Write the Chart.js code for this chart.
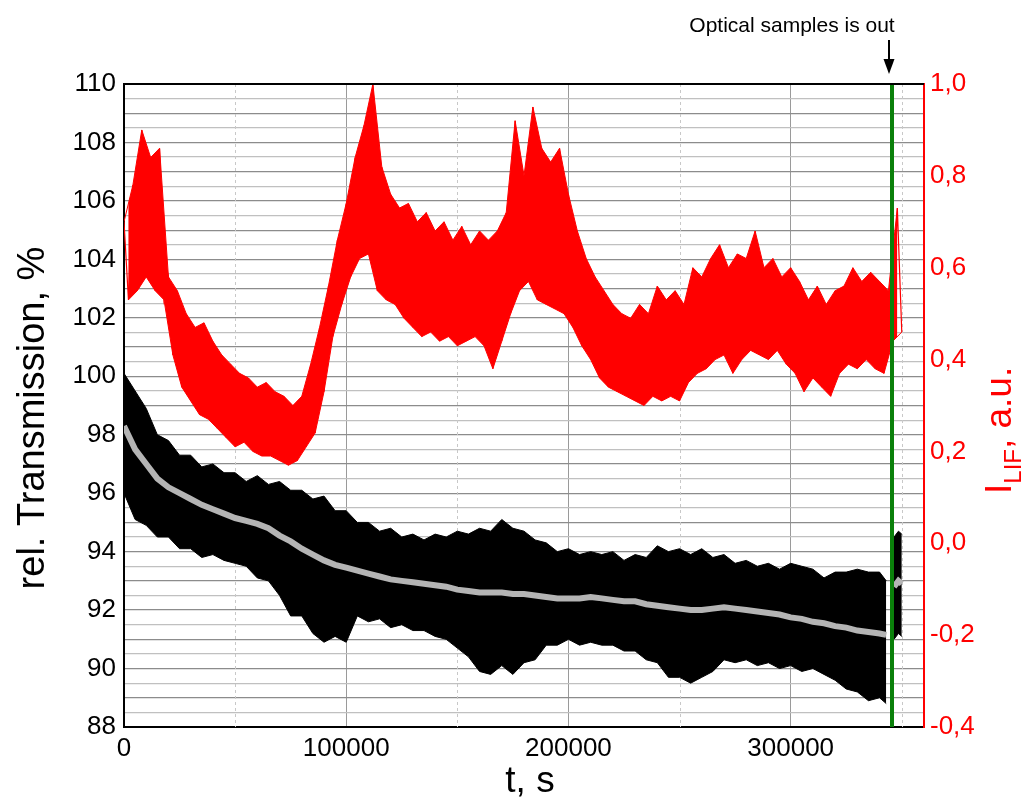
<!DOCTYPE html>
<html>
<head>
<meta charset="utf-8">
<script src="https://cdn.jsdelivr.net/npm/chart.js@4/dist/chart.umd.min.js"></script>
<style>
  html, body { margin: 0; padding: 0; background: #fff; }
  #wrap { width: 1024px; height: 800px; position: relative; }
</style>
</head>
<body>
<div id="wrap"><canvas id="chart"></canvas></div>
<script>
// transmission band (left axis), sampled every 5000 s, last point 343000 s
const transStep = 5000;
const transUpper = [100.1, 99.5, 98.9, 98.0, 97.8, 97.3, 97.3, 96.9, 97.0, 96.7,
    96.7, 96.4, 96.6, 96.3, 96.4, 96.1, 96.1, 95.8, 95.9, 95.4,
    95.4, 95.0, 95.0, 94.7, 94.8, 94.5, 94.6, 94.4, 94.6, 94.5,
    94.7, 94.6, 94.8, 94.7, 95.1, 94.8, 94.7, 94.4, 94.3, 94.0,
    94.1, 93.9, 94.0, 93.9, 94.0, 93.7, 93.9, 93.8, 94.2, 94.0,
    94.1, 93.9, 94.1, 93.8, 93.9, 93.6, 93.7, 93.5, 93.6, 93.4,
    93.6, 93.5, 93.4, 93.1, 93.3, 93.3, 93.4, 93.3, 93.3, 93.0];
const transLower = [96.0, 95.1, 94.9, 94.5, 94.5, 94.1, 94.1, 93.8, 93.9, 93.7,
    93.6, 93.5, 93.1, 93.0, 92.5, 91.8, 91.8, 91.2, 90.9, 91.1,
    90.9, 91.8, 91.6, 91.7, 91.4, 91.5, 91.3, 91.3, 91.1, 91.0,
    90.7, 90.4, 89.9, 89.8, 90.1, 89.8, 90.2, 90.3, 90.8, 90.8,
    91.0, 90.8, 90.9, 90.8, 90.8, 90.6, 90.6, 90.3, 90.2, 89.7,
    89.7, 89.5, 89.7, 89.9, 90.3, 90.2, 90.3, 90.1, 90.2, 90.0,
    90.1, 89.9, 90.0, 89.8, 89.6, 89.3, 89.2, 88.9, 89.0, 88.8];
const transMean = [98.3, 97.5, 97.0, 96.5, 96.2, 96.0, 95.8, 95.6, 95.45, 95.3,
    95.15, 95.05, 94.95, 94.8, 94.55, 94.35, 94.1, 93.9, 93.7, 93.55,
    93.45, 93.35, 93.25, 93.15, 93.05, 93.0, 92.95, 92.9, 92.85, 92.8,
    92.7, 92.65, 92.6, 92.6, 92.6, 92.55, 92.55, 92.5, 92.45, 92.4,
    92.4, 92.4, 92.45, 92.4, 92.35, 92.3, 92.3, 92.2, 92.15, 92.1,
    92.05, 92.0, 92.0, 92.05, 92.1, 92.05, 92.0, 91.95, 91.9, 91.85,
    91.75, 91.7, 91.6, 91.55, 91.45, 91.4, 91.3, 91.25, 91.2, 91.15];
const transLastT = 343000;

// short piece after the samples were taken out
const tailT = [346500, 348500, 350000];
const tailUpper = [94.5, 94.7, 94.6];
const tailLower = [91.0, 91.2, 91.1];
const tailMean = [92.8, 93.0, 92.9];

// LIF signal (right axis): peaks at t = 4000*k, dips at t = 2000 + 4000*k
const lifStep = 4000;
const lifHi = [0.70, 0.78, 0.90, 0.84, 0.86, 0.58, 0.55, 0.50, 0.47, 0.48,
    0.44, 0.41, 0.39, 0.37, 0.36, 0.34, 0.35, 0.33, 0.32, 0.30,
    0.32, 0.39, 0.47, 0.56, 0.66, 0.74, 0.84, 0.91, 1.00, 0.82,
    0.76, 0.73, 0.74, 0.70, 0.72, 0.68, 0.70, 0.66, 0.69, 0.65,
    0.68, 0.66, 0.68, 0.72, 0.92, 0.80, 0.95, 0.86, 0.83, 0.86,
    0.76, 0.68, 0.62, 0.58, 0.55, 0.52, 0.50, 0.49, 0.52, 0.50,
    0.56, 0.53, 0.55, 0.52, 0.60, 0.58, 0.62, 0.65, 0.60, 0.63,
    0.62, 0.68, 0.60, 0.62, 0.58, 0.60, 0.57, 0.53, 0.56, 0.52,
    0.55, 0.56, 0.60, 0.57, 0.59, 0.57, 0.55, 0.73];
const lifLo = [0.53, 0.55, 0.58, 0.55, 0.53, 0.41, 0.34, 0.31, 0.28, 0.27,
    0.25, 0.23, 0.21, 0.22, 0.20, 0.19, 0.19, 0.18, 0.17, 0.18,
    0.21, 0.24, 0.33, 0.45, 0.52, 0.58, 0.62, 0.63, 0.55, 0.53,
    0.52, 0.49, 0.47, 0.45, 0.46, 0.44, 0.45, 0.43, 0.44, 0.45,
    0.43, 0.38, 0.44, 0.50, 0.55, 0.57, 0.53, 0.52, 0.51, 0.50,
    0.47, 0.43, 0.40, 0.36, 0.34, 0.33, 0.32, 0.31, 0.30, 0.32,
    0.31, 0.32, 0.31, 0.35, 0.37, 0.38, 0.40, 0.41, 0.37, 0.40,
    0.42, 0.41, 0.40, 0.42, 0.39, 0.37, 0.33, 0.36, 0.34, 0.32,
    0.37, 0.39, 0.38, 0.40, 0.38, 0.37, 0.44, 0.46];

const samplesOutT = 345600;
const xTickValues = [0, 50000, 100000, 150000, 200000, 250000, 300000, 350000];
const xTickLabels = [0, 100000, 200000, 300000];
const minorX = [50000, 150000, 250000, 350000];

const FONT = "'Liberation Sans', Arial, sans-serif";
Chart.defaults.font.family = FONT;

// build point lists
const transPts = (arr) => {
    const pts = arr.slice(0, -1).map((v, i) => ({ x: i * transStep, y: v }));
    pts.push({ x: transLastT, y: arr[arr.length - 1] });
    return pts;
};
const tailPts = (arr) => arr.map((v, i) => ({ x: tailT[i], y: v }));
const lifHiPts = lifHi.map((v, i) => ({ x: i * lifStep, y: v }));
const lifLoPts = lifLo.map((v, i) => ({ x: i * lifStep + lifStep / 2, y: v }));
const lifPts = [];
lifHiPts.forEach((p, i) => {
    lifPts.push(p);
    if (lifLoPts[i]) lifPts.push(lifLoPts[i]);
});

const decor = {
    id: 'decor',
    beforeDatasetsDraw(chart) {
        const { ctx, chartArea: a, scales: { x } } = chart;
        ctx.save();
        ctx.strokeStyle = '#c8c8c8';
        ctx.lineWidth = 1;
        ctx.setLineDash([3, 3]);
        minorX.forEach(v => {
            const px = Math.round(x.getPixelForValue(v)) + 0.5;
            ctx.beginPath();
            ctx.moveTo(px, a.top);
            ctx.lineTo(px, a.bottom);
            ctx.stroke();
        });
        ctx.restore();
    },
    afterDraw(chart) {
        const { ctx, chartArea: a, scales: { x } } = chart;
        ctx.save();
        // top frame
        ctx.strokeStyle = '#000';
        ctx.lineWidth = 2;
        ctx.beginPath();
        ctx.moveTo(a.left - 1, a.top);
        ctx.lineTo(a.right, a.top);
        ctx.stroke();

        // x title
        ctx.fillStyle = '#000';
        ctx.font = '37px ' + FONT;
        ctx.textAlign = 'center';
        ctx.textBaseline = 'alphabetic';
        ctx.fillText('t, s', (a.left + a.right) / 2 + 6, 792);

        // left title
        ctx.save();
        ctx.translate(44, 418);
        ctx.rotate(-Math.PI / 2);
        ctx.font = '38px ' + FONT;
        ctx.fillText('rel. Transmission, %', 0, 0);
        ctx.restore();

        // right title I_LIF, a.u.
        ctx.save();
        ctx.fillStyle = '#ff0000';
        ctx.translate(1011, 494);
        ctx.rotate(-Math.PI / 2);
        ctx.textAlign = 'left';
        ctx.font = '37px ' + FONT;
        ctx.fillText('I', 0, 0);
        let w = ctx.measureText('I').width;
        ctx.font = '24px ' + FONT;
        ctx.fillText('LIF', w, 10);
        w += ctx.measureText('LIF').width;
        ctx.font = '37px ' + FONT;
        ctx.fillText(', a.u.', w, 0);
        ctx.restore();

        // annotation
        const ax = x.getPixelForValue(samplesOutT) - 3;
        ctx.fillStyle = '#000';
        ctx.font = '21px ' + FONT;
        ctx.textAlign = 'center';
        ctx.fillText('Optical samples is out', 792, 32);
        ctx.strokeStyle = '#000';
        ctx.lineWidth = 2;
        ctx.beginPath();
        ctx.moveTo(ax, 40);
        ctx.lineTo(ax, 62);
        ctx.stroke();
        ctx.beginPath();
        ctx.moveTo(ax - 5.5, 59);
        ctx.lineTo(ax + 5.5, 59);
        ctx.lineTo(ax, 74);
        ctx.closePath();
        ctx.fill();
        ctx.restore();
    }
};

new Chart(document.getElementById('chart'), {
    type: 'line',
    data: {
        datasets: [
            {   // 0 upper edge of band, filled down to lower edge
                data: transPts(transUpper), yAxisID: 'y',
                borderColor: '#000', borderWidth: 1, backgroundColor: '#000',
                fill: 1, pointRadius: 0, tension: 0, order: 5
            },
            {   // 1
                data: transPts(transLower), yAxisID: 'y',
                borderColor: '#000', borderWidth: 1, pointRadius: 0, fill: false, order: 5
            },
            {   // 2
                data: tailPts(tailUpper), yAxisID: 'y',
                borderColor: '#000', borderWidth: 1, backgroundColor: '#000',
                fill: 3, pointRadius: 0, order: 5
            },
            {   // 3
                data: tailPts(tailLower), yAxisID: 'y',
                borderColor: '#000', borderWidth: 1, pointRadius: 0, fill: false, order: 5
            },
            {   // 4 mean
                data: transPts(transMean), yAxisID: 'y',
                borderColor: '#b4b4b4', borderWidth: 6, pointRadius: 0, fill: false, order: 4
            },
            {   // 5
                data: tailPts(tailMean), yAxisID: 'y',
                borderColor: '#b4b4b4', borderWidth: 6, pointRadius: 0, fill: false, order: 4
            },
            {   // 6 LIF upper envelope, filled to the dips
                data: lifHiPts, yAxisID: 'y2',
                borderColor: '#ff0000', borderWidth: 1, backgroundColor: '#ff0000',
                fill: 7, pointRadius: 0, order: 3
            },
            {   // 7
                data: lifLoPts, yAxisID: 'y2',
                borderColor: '#ff0000', borderWidth: 1, pointRadius: 0, fill: false, order: 3
            },
            {   // 8 LIF trace
                data: lifPts, yAxisID: 'y2',
                borderColor: '#ff0000', borderWidth: 1.2, pointRadius: 0, fill: false, order: 2
            },
            {   // 9 samples out
                data: [{ x: samplesOutT, y: 88 }, { x: samplesOutT, y: 110 }], yAxisID: 'y',
                borderColor: '#0a800a', borderWidth: 4, pointRadius: 0, fill: false, order: 1
            }
        ]
    },
    options: {
        responsive: true,
        maintainAspectRatio: false,
        animation: false,
        layout: { padding: { top: 84, left: 0, right: 0, bottom: 0 } },
        plugins: { legend: { display: false }, tooltip: { enabled: false } },
        scales: {
            x: {
                type: 'linear', min: 0, max: 360000,
                afterBuildTicks: s => { s.ticks = xTickValues.map(v => ({ value: v })); },
                ticks: {
                    autoSkip: false, maxRotation: 0, padding: 6,
                    color: '#000', font: { size: 26 },
                    callback: v => xTickLabels.includes(Math.round(v)) ? String(Math.round(v)) : ''
                },
                grid: {
                    drawTicks: false, lineWidth: 1,
                    color: c => (c.tick && xTickLabels.includes(Math.round(c.tick.value)) && c.tick.value > 0) ? '#9a9a9a' : 'rgba(0,0,0,0)'
                },
                border: { color: '#000', width: 2 },
                afterFit: s => { s.height = 73; }
            },
            y: {
                position: 'left', min: 88, max: 110,
                ticks: {
                    stepSize: 0.5, autoSkip: false, padding: 8,
                    color: '#000', font: { size: 26 },
                    callback: v => (Number.isInteger(v) && v % 2 === 0) ? String(v) : ''
                },
                grid: {
                    drawTicks: false, lineWidth: 1.2,
                    color: c => (c.tick && Number.isInteger(c.tick.value)) ? '#8c8c8c' : '#c0c0c0'
                },
                border: { color: '#000', width: 2 },
                afterFit: s => { s.width = 124; }
            },
            y2: {
                position: 'right', min: -0.4, max: 1.0,
                ticks: {
                    stepSize: 0.2, autoSkip: false, padding: 6,
                    color: '#ff0000', font: { size: 26 },
                    callback: v => Math.abs(v) < 1e-9 ? '0,0' : v.toFixed(1).replace('.', ',')
                },
                grid: { display: false, drawTicks: false },
                border: { color: '#ff0000', width: 2 },
                afterFit: s => { s.width = 100; }
            }
        }
    },
    plugins: [decor]
});
</script>
</body>
</html>
